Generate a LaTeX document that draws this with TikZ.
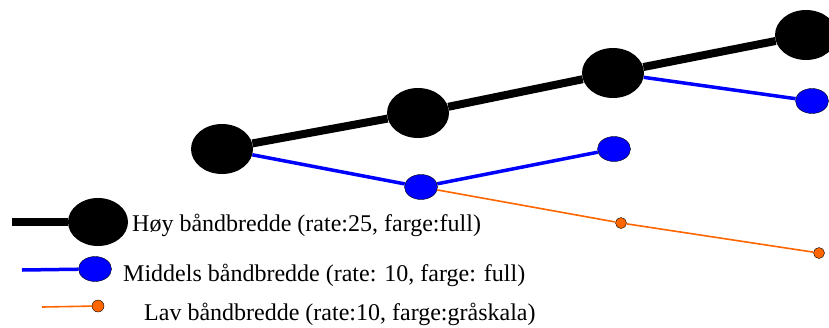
\documentclass[tikz,border=0pt]{standalone}
\usepackage{fontspec}
\setmainfont{Liberation Serif}
\usepackage{tikz}
\usetikzlibrary{shapes.geometric}
\definecolor{oransje}{RGB}{255,102,0}

\tikzset{
  stor/.style={ellipse, fill=black, inner sep=0pt, minimum width=62pt, minimum height=50pt},
  middels/.style={ellipse, fill=blue, draw=black, thin, inner sep=0pt, minimum width=33pt, minimum height=25pt},
  lav/.style={circle, fill=oransje, draw=black, thin, inner sep=0pt, minimum size=11pt},
  hoylinje/.style={line width=8pt, black},
  midlinje/.style={line width=3.5pt, blue},
  lavlinje/.style={line width=1.6pt, oransje},
  tekst/.style={anchor=base west, inner sep=0pt, font=\fontsize{24}{28}\selectfont}
}

\begin{document}
\begin{tikzpicture}[x=1pt, y=-1pt]
  \useasboundingbox (0,0) rectangle (829,327);

  % lag med høy båndbredde
  \node[stor] (h1) at (222,149) {};
  \node[stor] (h2) at (418,113) {};
  \node[stor] (h3) at (613,73) {};
  \node[stor] (h4) at (806,35) {};

  % lag med middels båndbredde
  \node[middels] (m1) at (421,187) {};
  \node[middels] (m2) at (614,149) {};
  \node[middels] (m3) at (812,101) {};

  % lag med lav båndbredde
  \node[lav] (l1) at (621,223) {};
  \node[lav] (l2) at (819,253) {};

  % forbindelser
  \draw[hoylinje] (h1) -- (h2) -- (h3) -- (h4);
  \draw[midlinje] (h1) -- (m1) -- (m2);
  \draw[midlinje] (h3) -- (m3);
  \draw[lavlinje] (m1) -- (l1) -- (l2);

  % forklaring
  \coordinate (fh) at (12,222);
  \node[stor, minimum width=60pt, minimum height=48pt] (fhn) at (98,222) {};
  \draw[hoylinje] (fh) -- (fhn);
  \node[tekst] (fht) at (132,231) {Høy båndbredde (rate:25, farge:full)};

  \coordinate (fm) at (22,270);
  \node[middels] (fmn) at (95,269) {};
  \draw[midlinje] (fm) -- (fmn);
  \node[tekst] (fmt) at (123,281) {Middels båndbredde (rate: 10, farge: full)};

  \coordinate (fl) at (42,307);
  \node[lav, minimum size=12pt] (fln) at (98,306) {};
  \draw[lavlinje] (fl) -- (fln);
  \node[tekst] (flt) at (144,320) {Lav båndbredde (rate:10, farge:gråskala)};
\end{tikzpicture}
\end{document}
